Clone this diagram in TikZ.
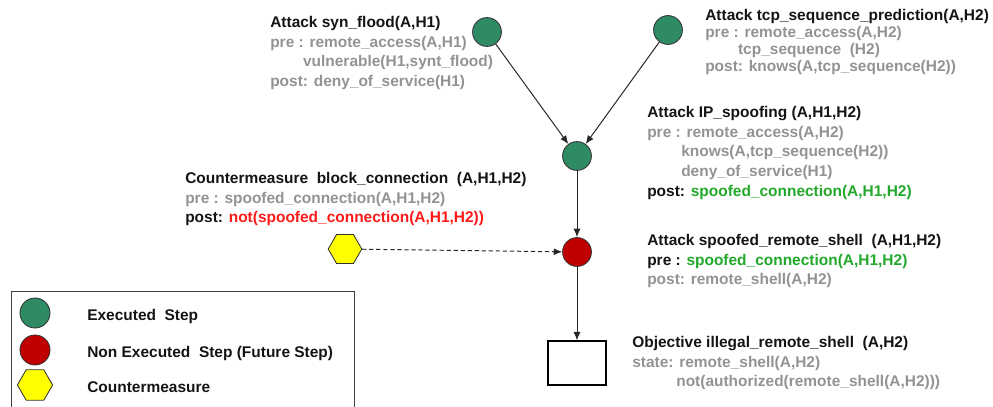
\documentclass[tikz,border=0pt]{standalone}
\usepackage{fontspec}
\setmainfont{Liberation Sans}
\usetikzlibrary{shapes.geometric, arrows.meta, positioning}
\definecolor{stepgreen}{HTML}{2E8B64}
\definecolor{stepred}{HTML}{C00000}
\definecolor{cmyellow}{HTML}{FFFF00}
\definecolor{txtgray}{HTML}{939393}
\definecolor{txtgreen}{HTML}{22A82A}
\definecolor{txtred}{HTML}{FF1A1A}
\definecolor{txtdark}{HTML}{141414}

\begin{document}
\begin{tikzpicture}[
  x=0.025cm, y=-0.025cm,
  done/.style={
    circle, draw=black!80, line width=0.6pt,
    fill=stepgreen, minimum size=0.72cm, inner sep=0
  },
  todo/.style={done, fill=stepred},
  counter/.style={
    regular polygon, regular polygon sides=6,
    draw=black!80, line width=0.6pt,
    fill=cmyellow, minimum size=0.84cm, inner sep=0
  },
  goal/.style={
    rectangle, draw=black, line width=1.4pt,
    minimum width=1.45cm, minimum height=1.08cm
  },
  lbl/.style={
    anchor=north west, inner sep=0, align=left,
    font=\fontsize{11}{14}\selectfont\bfseries, text=txtgray
  },
  keytxt/.style={
    anchor=base west, inner sep=0,
    font=\fontsize{11}{14}\selectfont\bfseries, text=txtdark
  },
  arr/.style={-{Latex[length=6pt,width=5pt]}, line width=0.7pt, black!85}
]
  \useasboundingbox (0,0) rectangle (993,407);
  \clip (0,0) rectangle (993,407);

  % Steps
  \node[done] (syn) at (487,32) {};
  \node[done] (tcp) at (668,30) {};
  \node[done] (ipspoof) at (577,156) {};
  \node[todo] (shell) at (577,252) {};
  \node[counter] (block) at (345,249) {};
  \node[goal] (obj) at (577,363) {};

  \draw[arr] (syn) -- (ipspoof);
  \draw[arr] (tcp) -- (ipspoof);
  \draw[arr] (ipspoof) -- (shell);
  \draw[arr] (shell) -- (obj);
  \draw[arr, dash pattern=on 3pt off 2pt] (block) -- (shell);

  % Descriptions
  \node[lbl] (synlbl) at (270,16) {
    {\color{txtdark}Attack syn\_flood(A,H1)}\\
    pre : remote\_access(A,H1)\\
    \hspace*{0.82cm}vulnerable(H1,synt\_flood)\\
    post: deny\_of\_service(H1)};
  \node[lbl, font=\fontsize{11}{12.1}\selectfont\bfseries] (tcplbl) at (705,9) {
    {\color{txtdark}Attack tcp\_sequence\_prediction(A,H2)}\\
    pre : remote\_access(A,H2)\\
    \hspace*{0.82cm}tcp\_sequence~ (H2)\\
    post: knows(A,tcp\_sequence(H2))};
  \node[lbl] (iplbl) at (647,106) {
    {\color{txtdark}Attack IP\_spoofing (A,H1,H2)}\\
    pre : remote\_access(A,H2)\\
    \hspace*{0.85cm}knows(A,tcp\_sequence(H2))\\
    \hspace*{0.85cm}deny\_of\_service(H1)\\
    {\color{txtdark}post:} {\color{txtgreen}spoofed\_connection(A,H1,H2)}};
  \node[lbl] (blocklbl) at (185,172) {
    {\color{txtdark}Countermeasure~ block\_connection~ (A,H1,H2)}\\
    pre : spoofed\_connection(A,H1,H2)\\
    {\color{txtdark}post:} {\color{txtred}not(spoofed\_connection(A,H1,H2))}};
  \node[lbl] (shelllbl) at (647,234) {
    {\color{txtdark}Attack spoofed\_remote\_shell~ (A,H1,H2)}\\
    {\color{txtdark}pre :} {\color{txtgreen}spoofed\_connection(A,H1,H2)}\\
    post: remote\_shell(A,H2)};
  \node[lbl] (objlbl) at (632,336) {
    {\color{txtdark}Objective illegal\_remote\_shell~ (A,H2)}\\
    state: remote\_shell(A,H2)\\
    \hspace*{1.1cm}not(authorized(remote\_shell(A,H2)))};

  % Legend
  \draw[black!75, line width=0.6pt] (11,291) rectangle (354,430);
  \node[done, minimum size=0.75cm] (keydone) at (35,313) {};
  \node[todo, minimum size=0.75cm] (keytodo) at (35,350) {};
  \node[counter, minimum size=0.88cm] (keyblock) at (35,385) {};
  \node[keytxt] (keydonetxt) at (87,320) {Executed~ Step};
  \node[keytxt] (keytodotxt) at (87,357) {Non Executed~ Step (Future Step)};
  \node[keytxt] (keyblocktxt) at (87,392) {Countermeasure};
\end{tikzpicture}
\end{document}
